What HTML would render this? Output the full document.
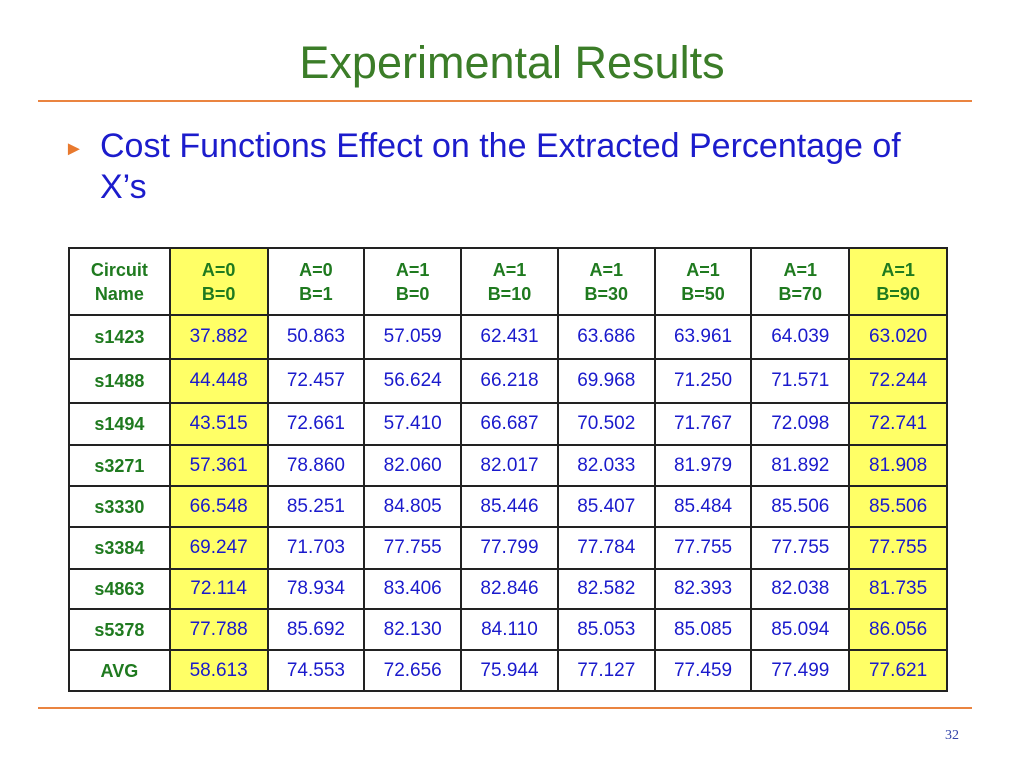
<!DOCTYPE html>
<html><head><meta charset="utf-8"><style>
body{margin:0;width:1024px;height:768px;background:#fff;position:relative;font-family:"Liberation Sans",sans-serif;overflow:hidden}
.title{position:absolute;top:37px;left:0;width:1024px;text-align:center;font-size:45px;color:#3b7d28}
.rule{position:absolute;left:38px;width:934px;height:2px;background:#ea8440}
.bullet{position:absolute;left:64px;top:138px;color:#e8792e;font-size:20px}
.sub{position:absolute;left:100px;top:126px;font-size:34px;color:#1c1ccc;line-height:41px;width:830px}
table{position:absolute;left:68px;top:247px;border-collapse:collapse;width:880px}
td{border:2px solid #222;text-align:center;font-size:19px;color:#1a1acc;padding:0}
td.h{color:#1f7a1f;font-weight:bold;line-height:24px;font-size:18px}
td.y{background:#ffff66}
.pg{position:absolute;left:945px;top:728px;font-family:"Liberation Serif",serif;font-size:14px;color:#3344aa}
</style></head><body>
<div class="title">Experimental Results</div>
<div class="rule" style="top:100px"></div>
<div class="bullet">►</div>
<div class="sub">Cost Functions Effect on the Extracted Percentage of X’s</div>
<table>
<colgroup><col style="width:101px"><col style="width:98px"><col style="width:97px"><col style="width:97px"><col style="width:97px"><col style="width:97px"><col style="width:97px"><col style="width:98px"><col style="width:98px"></colgroup>
<tbody id="tb"></tbody></table>
<div class="rule" style="top:707px"></div>
<div class="pg">32</div>
<script>
const headers=["Circuit<br>Name","A=0<br>B=0","A=0<br>B=1","A=1<br>B=0","A=1<br>B=10","A=1<br>B=30","A=1<br>B=50","A=1<br>B=70","A=1<br>B=90"];
const circuits=["s1423","s1488","s1494","s3271","s3330","s3384","s4863","s5378","AVG"];
const values=[
["37.882","50.863","57.059","62.431","63.686","63.961","64.039","63.020"],
["44.448","72.457","56.624","66.218","69.968","71.250","71.571","72.244"],
["43.515","72.661","57.410","66.687","70.502","71.767","72.098","72.741"],
["57.361","78.860","82.060","82.017","82.033","81.979","81.892","81.908"],
["66.548","85.251","84.805","85.446","85.407","85.484","85.506","85.506"],
["69.247","71.703","77.755","77.799","77.784","77.755","77.755","77.755"],
["72.114","78.934","83.406","82.846","82.582","82.393","82.038","81.735"],
["77.788","85.692","82.130","84.110","85.053","85.085","85.094","86.056"],
["58.613","74.553","72.656","75.944","77.127","77.459","77.499","77.621"]];
const heights=[44,44,42,41,41,42,40,41,41];
const tb=document.getElementById('tb');
let tr=document.createElement('tr');tr.style.height='67px';


headers.forEach((h,i)=>{const td=document.createElement('td');td.innerHTML=h;td.className='h'+(i==1||i==8?' y':'');


tr.appendChild(td);});tb.appendChild(tr);
circuits.forEach((c,r)=>{const tr=document.createElement('tr');tr.style.height=heights[r]+'px';


const td=document.createElement('td');td.textContent=c;td.className='h';


tr.appendChild(td);
values[r].forEach((v,i)=>{const d=document.createElement('td');d.textContent=v;if(i==0||i==7)d.className='y';


tr.appendChild(d);});tb.appendChild(tr);});
</script>
</body></html>
